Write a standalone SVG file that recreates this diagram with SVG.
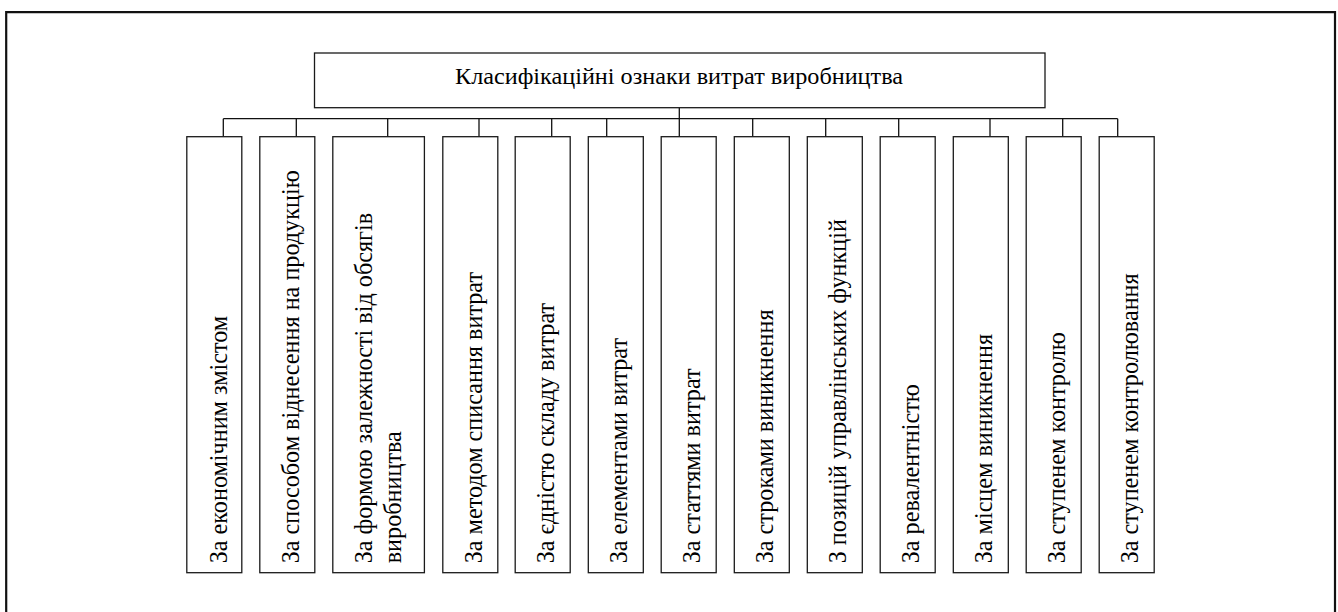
<svg xmlns="http://www.w3.org/2000/svg" width="1338" height="612" viewBox="0 0 1338 612">
<style>
.box{fill:#fff;stroke:#1a1a1a;stroke-width:1.3}
.frame{fill:none;stroke:#111;stroke-width:2.2}
.ln{stroke:#111;stroke-width:1.3;fill:none}
</style>
<path class="frame" d="M6.2 612V12.2H1335V612"/>
<g id="connectors">
<path class="ln" d="M679.3 107.7V144M223.3 118.7H1117.7M223.3 118.7V136.7M296.3 118.7V136.7M387.7 118.7V136.7M479 118.7V136.7M551.7 118.7V136.7M606.7 118.7V136.7M752.7 118.7V136.7M825.7 118.7V136.7M898.7 118.7V136.7M990 118.7V136.7M1062.7 118.7V136.7M1117.7 118.7V136.7"/>
</g>
<g id="title">
<rect class="box" x="314.5" y="53" width="730.5" height="54.7"/>
<text x="455" y="84" font-family="Liberation Serif" font-size="23" textLength="448" lengthAdjust="spacingAndGlyphs">Класифікаційні ознаки витрат виробництва</text>
</g>
<g font-family="Liberation Serif" font-size="24.2" fill="#000">
<g id="n1"><rect class="box" x="186.8" y="136.7" width="55" height="436"/>
<g transform="translate(226.5,563.3) rotate(-90)"><text x="0" y="0">За економічним змістом</text></g></g>
<g id="n2"><rect class="box" x="259.8" y="136.7" width="55" height="436"/>
<g transform="translate(298.5,563.3) rotate(-90)"><text x="0" y="0">За способом віднесення на продукцію</text></g></g>
<g id="n3"><rect class="box" x="332.8" y="136.7" width="91.6" height="436"/>
<g transform="translate(371.7,563.3) rotate(-90)"><text x="0" y="0">За формою залежності від обсягів</text></g>
<g transform="translate(400.7,563.3) rotate(-90)"><text x="0" y="0">виробництва</text></g></g>
<g id="n4"><rect class="box" x="442.8" y="136.7" width="55" height="436"/>
<g transform="translate(481.7,563.3) rotate(-90)"><text x="0" y="0">За методом списання витрат</text></g></g>
<g id="n5"><rect class="box" x="515.2" y="136.7" width="55" height="436"/>
<g transform="translate(554.2,563.3) rotate(-90)"><text x="0" y="0">За єдністю складу витрат</text></g></g>
<g id="n6"><rect class="box" x="588.3" y="136.7" width="55" height="436"/>
<g transform="translate(627.3,563.3) rotate(-90)"><text x="0" y="0">За елементами витрат</text></g></g>
<g id="n7"><rect class="box" x="661.2" y="136.7" width="55" height="436"/>
<g transform="translate(700,563.3) rotate(-90)"><text x="0" y="0">За статтями витрат</text></g></g>
<g id="n8"><rect class="box" x="734.3" y="136.7" width="55" height="436"/>
<g transform="translate(773.3,563.3) rotate(-90)"><text x="0" y="0">За строками виникнення</text></g></g>
<g id="n9"><rect class="box" x="807.3" y="136.7" width="55" height="436"/>
<g transform="translate(846.3,563.3) rotate(-90)"><text x="0" y="0">З позицій управлінських функцій</text></g></g>
<g id="n10"><rect class="box" x="880.2" y="136.7" width="55" height="436"/>
<g transform="translate(919.2,563.3) rotate(-90)"><text x="0" y="0">За ревалентністю</text></g></g>
<g id="n11"><rect class="box" x="953.3" y="136.7" width="55" height="436"/>
<g transform="translate(992.3,563.3) rotate(-90)"><text x="0" y="0">За місцем виникнення</text></g></g>
<g id="n12"><rect class="box" x="1026.2" y="136.7" width="55" height="436"/>
<g transform="translate(1065.2,563.3) rotate(-90)"><text x="0" y="0">За ступенем контролю</text></g></g>
<g id="n13"><rect class="box" x="1099.2" y="136.7" width="55" height="436"/>
<g transform="translate(1138.2,563.3) rotate(-90)"><text x="0" y="0">За ступенем контролювання</text></g></g>
</g>
</svg>
